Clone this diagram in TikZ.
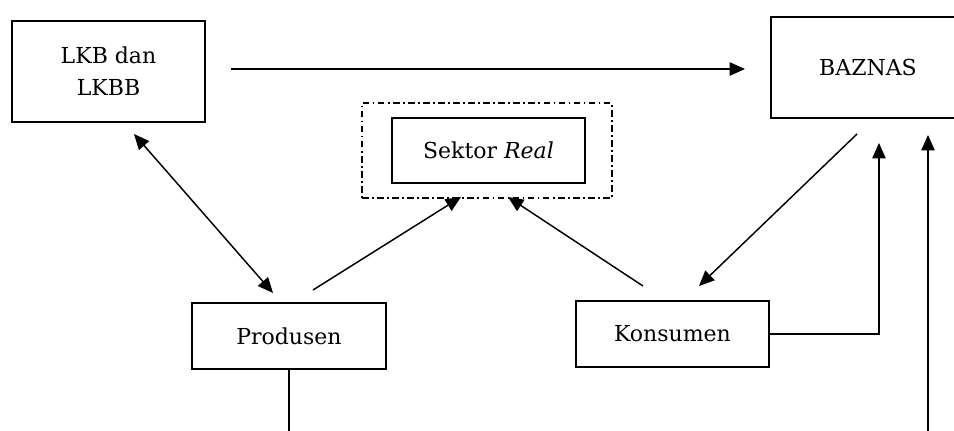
\documentclass[tikz,border=0pt]{standalone}
\usepackage{fontspec}
\setmainfont{DejaVu Serif}
\usetikzlibrary{arrows.meta}

\begin{document}
\begin{tikzpicture}[x=0.75pt,y=-0.75pt,line width=1.1pt,
  >={Triangle[length=11.5pt,width=10pt]},
  box/.style={draw,line width=1.4pt,inner sep=0pt,align=center,
    font=\fontsize{16.5}{24}\selectfont,minimum width=145pt,minimum height=49pt},
  frame/.style={draw,line width=1.4pt,dash pattern=on 5pt off 2.5pt on 1.3pt off 2.5pt,
    minimum width=187.5pt,minimum height=71.25pt}]

  \useasboundingbox (0,0) rectangle (954,430);

  \node[box,minimum height=75.75pt] (lkb) at (108.5,71.5) {LKB dan\\LKBB};
  \node[box,minimum height=75.75pt] (baznas) at (868,67.5) {BAZNAS};
  \node[frame] (realframe) at (487,150.5) {};
  \node[box] (real) at (488.5,150.5) {Sektor \textit{Real}};
  \node[box] (produsen) at (289,336) {Produsen};
  \node[box] (konsumen) at (672.5,334) {Konsumen};

  % free ends of the connectors
  \coordinate (p1) at (231,69);
  \coordinate (p2) at (745,69);
  \coordinate (p3) at (134,134);
  \coordinate (p4) at (273,293);
  \coordinate (p5) at (313,290);
  \coordinate (p6) at (461,197);
  \coordinate (p7) at (643,286);
  \coordinate (p8) at (508,197);
  \coordinate (p9) at (857,134);
  \coordinate (p10) at (699,286);
  \coordinate (p11) at (879,143);
  \coordinate (p12) at (928,135);
  \coordinate (p13) at (928,431);
  \coordinate (p14) at (289,431);

  \draw[->] (p1) -- (p2);
  \draw[<->] (p3) -- (p4);
  \draw[->] (p5) -- (p6);
  \draw[->] (p7) -- (p8);
  \draw[->] (p9) -- (p10);
  \draw[->] (konsumen.east) -| (p11);
  \draw[->] (p13) -- (p12);
  \draw (produsen.south) -- (p14);
\end{tikzpicture}
\end{document}
